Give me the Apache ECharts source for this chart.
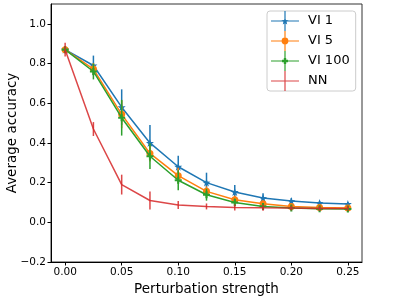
<!DOCTYPE html>
<html><head><meta charset="utf-8">
<script src="https://cdn.jsdelivr.net/npm/echarts@6/dist/echarts.min.js"></script>
<style>html,body{margin:0;padding:0;background:#fff}#c{width:399px;height:298px}</style>
</head><body><div id="c"></div>
<script>
const xs = [0, 0.025, 0.05, 0.075, 0.1, 0.125, 0.15, 0.175, 0.2, 0.225, 0.25];
const vi1 = [0.87, 0.79, 0.58, 0.40, 0.28, 0.20, 0.153, 0.122, 0.107, 0.097, 0.092];
const vi1Err = [0.015, 0.05, 0.09, 0.09, 0.055, 0.05, 0.035, 0.025, 0.015, 0.01, 0.01];
const vi5 = [0.87, 0.772, 0.544, 0.347, 0.235, 0.156, 0.114, 0.094, 0.08, 0.075, 0.072];
const vi5Err = [0.015, 0.03, 0.07, 0.04, 0.04, 0.025, 0.02, 0.015, 0.01, 0.008, 0.008];
const vi100 = [0.87, 0.76, 0.527, 0.333, 0.212, 0.139, 0.10, 0.08, 0.072, 0.068, 0.067];
const vi100Err = [0.015, 0.04, 0.09, 0.065, 0.05, 0.03, 0.02, 0.012, 0.01, 0.008, 0.008];
const nn = [0.87, 0.47, 0.19, 0.11, 0.087, 0.08, 0.075, 0.073, 0.072, 0.07, 0.07];
const nnErr = [0.035, 0.035, 0.05, 0.045, 0.02, 0.015, 0.015, 0.015, 0.012, 0.012, 0.012];
const names = ['VI 1', 'VI 5', 'VI 100', 'NN'];
const xTicks = [0, 0.05, 0.1, 0.15, 0.2, 0.25];
const yTicks = [-0.2, 0, 0.2, 0.4, 0.6, 0.8, 1.0];

const colors = ['#1f77b4', '#ff7f0e', '#2ca02c', '#d62728'];
const star = 'path://M0,-10 L2.35,-3.24 L9.51,-3.09 L3.8,1.24 L5.88,8.09 L0,4 L-5.88,8.09 L-3.8,1.24 L-9.51,-3.09 L-2.35,-3.24 Z';
const plus = 'path://M-1.2,-4 L1.2,-4 L1.2,-1.2 L4,-1.2 L4,1.2 L1.2,1.2 L1.2,4 L-1.2,4 L-1.2,1.2 L-4,1.2 L-4,-1.2 L-1.2,-1.2 Z';
const symbols = [star, 'circle', plus, 'none'];
const symSizes = [8, 7, 7, 0];
const vals = [vi1, vi5, vi100, nn];
const errs = [vi1Err, vi5Err, vi100Err, nnErr];

const base = 'M0,9.4 L28,9.4 L28,10.6 L0,10.6 Z M13.4,0 L14.6,0 L14.6,20 L13.4,20 Z';
const legIcons = [
  'path://' + base + ' M14,6.5 L15,9 L17.5,9.2 L15.6,10.8 L16.2,13.5 L14,12 L11.8,13.5 L12.4,10.8 L10.5,9.2 L13,9 Z',
  'path://' + base + ' M10.6,10 A3.4,3.4 0 1 1 17.4,10 A3.4,3.4 0 1 1 10.6,10 Z',
  'path://' + base + ' M12.8,7 L15.2,7 L15.2,8.8 L17,8.8 L17,11.2 L15.2,11.2 L15.2,13 L12.8,13 L12.8,11.2 L11,11.2 L11,8.8 L12.8,8.8 Z',
  'path://' + base
];

const series = [];
names.forEach((n, i) => {
  series.push({
    type: 'custom', name: n + ' err', z: 2 + i * 2,
    data: xs.map((x, k) => [x, vals[i][k], errs[i][k]]),
    renderItem: function (params, api) {
      const x = api.value(0), y = api.value(1), e = api.value(2);
      const p1 = api.coord([x, y - e]), p2 = api.coord([x, y + e]);
      return { type: 'line', shape: { x1: p1[0], y1: p1[1], x2: p2[0], y2: p2[1] },
        style: { stroke: colors[i], lineWidth: 1.5, opacity: i === 3 ? 0.85 : 1 } };
    },
    silent: true
  });
  series.push({
    type: 'line', name: n, z: 3 + i * 2,
    data: xs.map((x, k) => [x, vals[i][k]]),
    symbol: symbols[i], symbolSize: symSizes[i], showSymbol: i !== 3,
    itemStyle: { color: colors[i], opacity: 1 },
    lineStyle: { color: colors[i], width: 1.5, opacity: i === 3 ? 0.85 : 1 },
    animation: false
  });
});

const chart = echarts.init(document.getElementById('c'), null, { renderer: 'canvas' });
chart.setOption({
  animation: false,
  color: colors,
  textStyle: { fontFamily: 'DejaVu Sans' },
  grid: { left: 51, right: 37, top: 4, bottom: 36, show: true, borderColor: '#333', borderWidth: 1,
    containLabel: false, outerBoundsMode: 'none' },
  xAxis: {
    type: 'value', min: -0.0125, max: 0.2625,
    name: 'Perturbation strength', nameLocation: 'middle', nameGap: 20, nameMoveOverlap: false,
    nameTextStyle: { fontSize: 13.5, color: '#000', fontFamily: 'DejaVu Sans' },
    axisLine: { show: true, onZero: false, lineStyle: { color: '#000', width: 1 } },
    axisTick: { show: true, length: 3.5, customValues: xTicks, lineStyle: { color: '#000' } },
    axisLabel: { customValues: xTicks, fontSize: 10.5, color: '#000', margin: 5,
      formatter: v => v.toFixed(2) },
    splitLine: { show: false }
  },
  yAxis: {
    type: 'value', min: -0.2, max: 1.1,
    name: 'Average accuracy', nameLocation: 'middle', nameGap: 32, nameRotate: 90, nameMoveOverlap: false,
    nameTextStyle: { fontSize: 13.5, color: '#000', fontFamily: 'DejaVu Sans' },
    axisLine: { show: true, onZero: false, lineStyle: { color: '#000', width: 1 } },
    axisTick: { show: true, length: 3.5, customValues: yTicks, lineStyle: { color: '#000' } },
    axisLabel: { customValues: yTicks, fontSize: 10.5, color: '#000', margin: 5,
      formatter: v => v.toFixed(1).replace('-', '\u2212') },
    splitLine: { show: false }
  },
  legend: {
    orient: 'vertical', left: 267, top: 11,
    itemWidth: 28, itemHeight: 20, itemGap: 0,
    padding: [0, 6, 0, 4],
    backgroundColor: '#fff', borderColor: '#ccc', borderWidth: 1, borderRadius: 3,
    textStyle: { fontSize: 13, color: '#000', fontFamily: 'DejaVu Sans', padding: [0, 0, 0, 4] },
    data: names.map((n, i) => ({ name: n, icon: legIcons[i], itemStyle: { color: colors[i], opacity: i === 3 ? 0.85 : 1 } })),
    selectedMode: false
  },
  series: series
});
</script>
</body></html>
